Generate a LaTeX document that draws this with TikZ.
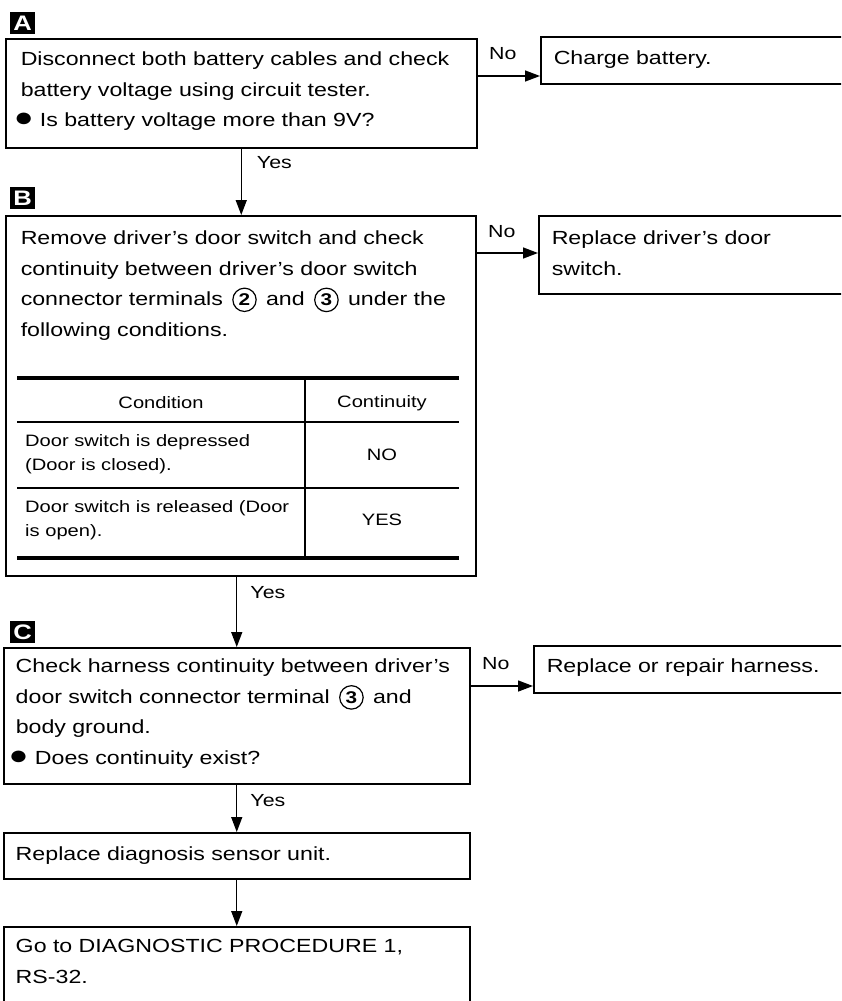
\documentclass[tikz,border=0pt]{standalone}
\usepackage{fontspec}
\setmainfont{Liberation Sans}[FakeStretch=1.22]
\usepackage{tikz}
\usetikzlibrary{positioning, arrows.meta}
\newcommand{\term}[1]{\hspace{3pt}\tikz[baseline=(tn.base)]\node[draw, circle, line width=1.2pt, inner sep=2.4pt, font=\bfseries\fontsize{17}{17}\selectfont] (tn) {#1};\hspace{3pt}}
\newcommand{\dotmark}{\hspace*{-7pt}{\fontsize{27}{0}\selectfont ●}}

\begin{document}
\begin{tikzpicture}[x=1pt, y=-1pt, >={Triangle[length=15pt, width=11pt]},
  font=\fontsize{19}{30.5}\selectfont,
  stepbox/.style={draw, line width=1.5pt, anchor=north west, align=left, inner ysep=0pt, inner xsep=15pt},
  badge/.style={fill=black, text=white, font=\bfseries\fontsize{21}{21}\selectfont, minimum width=25pt, minimum height=22pt, inner sep=0pt},
  flow/.style={->, line width=1.4pt},
  ans/.style={font=\fontsize{17.5}{17.5}\selectfont, inner sep=3pt},
  cell/.style={font=\fontsize{16.5}{24.5}\selectfont, align=left, inner sep=0pt}]
  \useasboundingbox (0,0) rectangle (841,1001);
  \clip (0,0) rectangle (841,1001);

  \node[stepbox, text width=441pt, text height=27pt, text depth=82pt] (chk) at (5,38) {Disconnect both battery cables and check\\battery voltage using circuit tester.\\\dotmark{} Is battery voltage more than 9V?};
  \node[badge, above=4pt of chk.north west, anchor=south west, xshift=5pt] (labA) {A};
  \node[stepbox, inner xsep=13pt, text width=314pt, text height=28pt, text depth=19pt] (chg) at (540,36) {Charge battery.};
  \coordinate (outA) at ([yshift=-38pt]chk.north east);
  \draw[flow] (outA) -- (outA -| chg.west)
    node[ans, pos=0, anchor=south west, xshift=8pt, yshift=13pt] (noA) {No};

  \node[stepbox, text width=440pt, text height=29pt, text depth=331pt] (rmv) at (5,215) {Remove driver’s door switch and check\\continuity between driver’s door switch\\connector terminals \term{2} and \term{3} under the\\following conditions.};
  \node[badge, above=6pt of rmv.north west, anchor=south west, xshift=5pt] (labB) {B};
  \draw[flow] (chk.south) -- (chk.south |- rmv.north)
    node[ans, pos=0, anchor=north west, xshift=12pt, yshift=-4pt] (yesA) {Yes};
  \node[stepbox, inner xsep=13pt, text width=318pt, text height=29pt, text depth=49pt] (rpl) at (538,215) {Replace driver’s door\\switch.};
  \coordinate (outB) at ([yshift=-38pt]rmv.north east);
  \draw[flow] (outB) -- (outB -| rpl.west)
    node[ans, pos=0, anchor=south west, xshift=8pt, yshift=12pt] (noB) {No};

  \draw[line width=4pt] (17,378) -- (459,378);
  \draw[line width=1.3pt] (17,422) -- (459,422);
  \draw[line width=1.3pt] (17,488) -- (459,488);
  \draw[line width=4pt] (17,558) -- (459,558);
  \draw[line width=1.3pt] (305,380) -- (305,556);
  \node[cell] (hcond) at (161,403) {Condition};
  \node[cell] (hcont) at (382,403) {Continuity};
  \node[cell, anchor=west] (cnd1) at (25,454) {Door switch is depressed\\(Door is closed).};
  \node[cell] (val1) at (382,455) {NO};
  \node[cell, anchor=west] (cnd2) at (25,520) {Door switch is released (Door\\is open).};
  \node[cell] (val2) at (382,520) {YES};

  \node[stepbox, inner xsep=12pt, text width=442pt, text height=25pt, text depth=111pt] (hrn) at (3,647) {Check harness continuity between driver’s\\door switch connector terminal \term{3} and\\body ground.\\\dotmark{} Does continuity exist?};
  \node[badge, above=4pt of hrn.north west, anchor=south west, xshift=7pt] (labC) {C};
  \draw[flow] (rmv.south -| hrn.north) -- (hrn.north)
    node[ans, pos=0, anchor=north west, xshift=10pt, yshift=-6pt] (yesB) {Yes};
  \node[stepbox, inner xsep=13pt, text width=320pt, text height=27pt, text depth=20pt] (rep) at (533,645) {Replace or repair harness.};
  \coordinate (outC) at ([yshift=-39pt]hrn.north east);
  \draw[flow] (outC) -- (outC -| rep.west)
    node[ans, pos=0, anchor=south west, xshift=8pt, yshift=13pt] (noC) {No};

  \node[stepbox, inner xsep=12pt, text width=442pt, text height=28pt, text depth=18pt] (sns) at (3,832) {Replace diagnosis sensor unit.};
  \draw[flow] (hrn.south) -- (sns.north)
    node[ans, pos=0, anchor=north west, xshift=10pt, yshift=-6pt] (yesC) {Yes};
  \node[stepbox, inner xsep=12pt, text width=442pt, text height=26pt, text depth=90pt] (dgn) at (3,926) {Go to DIAGNOSTIC PROCEDURE 1,\\RS-32.};
  \draw[flow] (sns.south) -- (dgn.north);
\end{tikzpicture}
\end{document}
